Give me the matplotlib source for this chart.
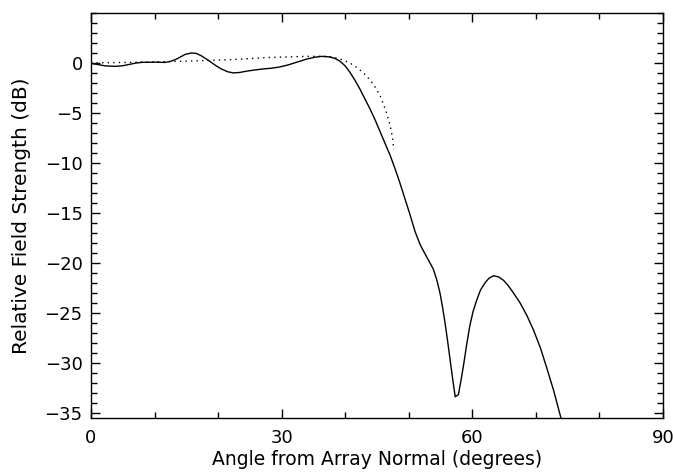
import numpy as np
import matplotlib
matplotlib.use("Agg")
import matplotlib.pyplot as plt
from matplotlib.ticker import MultipleLocator

angle_meas = [0, 1, 2.3, 3.8, 5, 6, 7, 8, 10, 11.6, 12.5, 13.5, 14.8, 15.8, 16.6, 17.4,
              18.7, 19.6, 20.5, 21.5, 22.4, 23.4, 24.5, 25.8, 27.1, 28.5, 29.7, 31, 32,
              33, 34, 35.3, 36.3, 37.6, 38.4, 39.2, 40, 40.7, 41.5, 42.3, 43.1, 43.9,
              44.7, 45.5, 46.3, 47.1, 47.9, 48.6, 49.4, 50.2, 51, 51.8, 52.8, 53.5,
              53.9, 54.4, 54.9, 55.3, 55.7, 56.1, 56.5, 56.9, 57.3, 57.8, 58.2, 58.6,
              59.1, 59.6, 60.1, 60.7, 61.3, 62, 62.6, 63.3, 64.1, 64.9, 65.6, 66.4,
              67.5, 68.6, 69.6, 70.7, 71.7, 72.8, 73.8, 75]
db_meas = [-0.05, -0.15, -0.3, -0.34, -0.28, -0.15, -0.02, 0.06, 0.08, 0.05, 0.15, 0.4,
           0.85, 1.0, 0.95, 0.7, 0.16, -0.25, -0.6, -0.88, -1.0, -0.95, -0.82, -0.7,
           -0.6, -0.52, -0.4, -0.2, 0.0, 0.2, 0.4, 0.58, 0.66, 0.6, 0.45, 0.16, -0.3,
           -0.9, -1.7, -2.6, -3.6, -4.6, -5.7, -6.9, -8.1, -9.3, -10.7, -12.0, -13.6,
           -15.2, -16.9, -18.2, -19.4, -20.2, -20.7, -21.7, -23.0, -24.4, -26.0, -27.8,
           -29.7, -31.6, -33.4, -33.2, -31.8, -30.3, -28.2, -26.3, -24.9, -23.7, -22.7,
           -22.0, -21.55, -21.3, -21.4, -21.75, -22.25, -22.95, -24.0, -25.3, -26.7,
           -28.5, -30.5, -32.8, -35.2, -38.0]

# model pattern (dotted)
angle_model = [0, 5, 11.6, 16, 22, 28, 34, 37, 38.2, 39.2, 40, 40.7, 41.5, 42.3, 43.1,
               43.9, 44.7, 45.5, 46, 46.5, 47, 47.3, 47.5, 47.6]
db_model = [0, 0.05, 0.13, 0.2, 0.33, 0.55, 0.66, 0.66, 0.55, 0.4, 0.2, 0.0, -0.3, -0.7,
            -1.15, -1.7, -2.4, -3.3, -4.1, -5.0, -6.1, -7.0, -7.8, -8.7]

x_ticks = [0, 30, 60, 90]
y_ticks = [0, -5, -10, -15, -20, -25, -30, -35]

plt.rcParams['font.family'] = 'DejaVu Sans'

fig = plt.figure(figsize=(6.73, 4.72), dpi=100)
ax = fig.add_axes([0.1352, 0.115, 0.85, 0.8575])

ax.plot(angle_meas, db_meas, color='black', lw=1.0)
ax.plot(angle_model, db_model, color='black', lw=1.0, ls=(0, (1, 3)))

ax.set_xlim(0, 90)
ax.set_ylim(-35.5, 5)

ax.set_xticks(x_ticks)
ax.set_yticks(y_ticks)
ax.xaxis.set_minor_locator(MultipleLocator(10))
ax.yaxis.set_minor_locator(MultipleLocator(1))

ax.tick_params(which='both', direction='in', top=True, right=True,
               labelsize=13, color='black', width=1)
ax.tick_params(which='major', length=6.5)
ax.tick_params(which='minor', length=4)
ax.tick_params(axis='x', pad=8)
ax.tick_params(axis='y', pad=6)
for s in ax.spines.values():
    s.set_linewidth(1.0)

ax.set_xlabel('Angle from Array Normal (degrees)', fontsize=13.5, labelpad=2)
ax.set_ylabel('Relative Field Strength (dB)', fontsize=14.5, labelpad=10)

fig.savefig('out.png', dpi=100)
